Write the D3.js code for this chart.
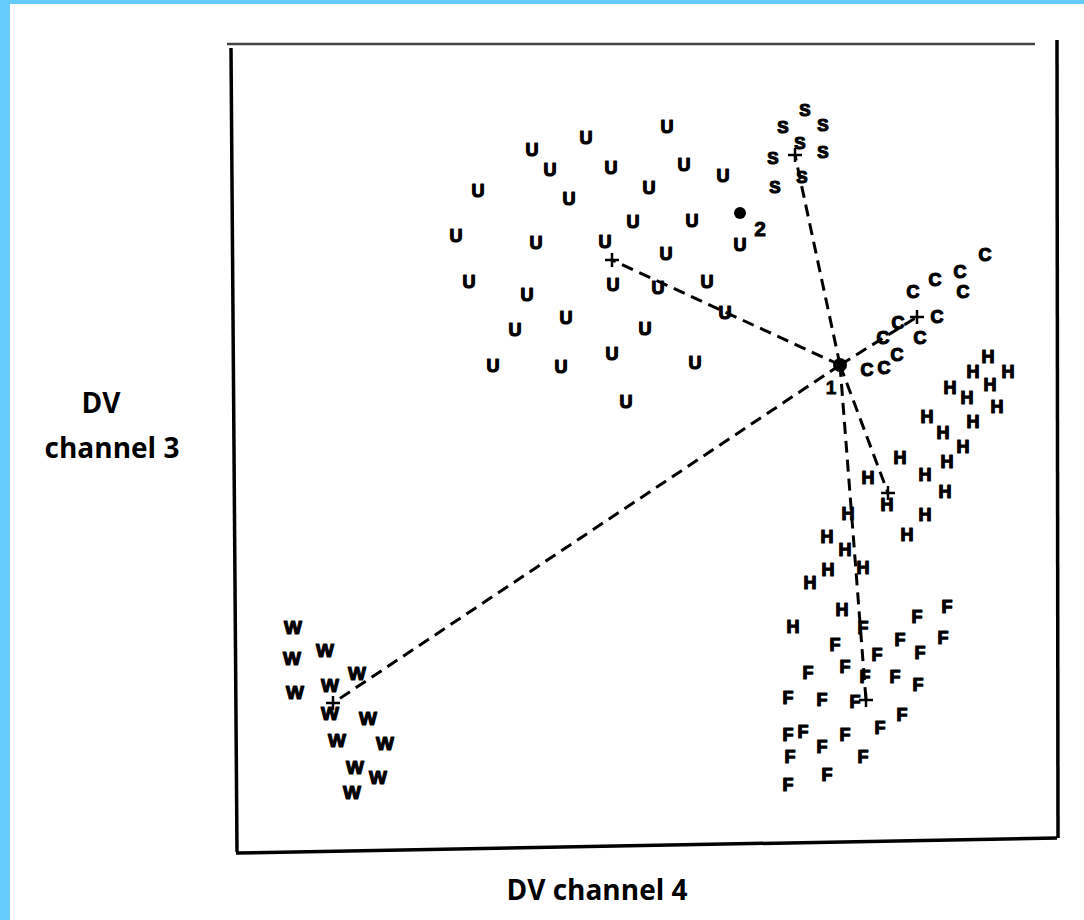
<!DOCTYPE html>
<html>
<head>
<meta charset="utf-8">
<script src="https://cdn.jsdelivr.net/npm/d3@7"></script>
<style>
  html, body { margin: 0; padding: 0; background: #fff; }
  svg { display: block; }
</style>
</head>
<body>
<svg id="chart" width="1084" height="920"></svg>
<script>
// ---- Data (discriminant scores, arbitrary units) ----
const groupU = [[43.7,72.3],[35.6,71.2],[30.2,70.0],[32.0,68.0],[38.1,68.2],[45.4,68.5],[49.3,67.4],
  [24.8,65.9],[41.9,66.2],[33.9,65.1],[40.3,62.8],[46.2,62.9],[22.6,61.4],[30.6,60.7],[37.5,60.8],
  [51.0,60.5],[43.6,59.6],[23.9,56.8],[38.3,56.5],[42.8,56.2],[47.7,56.8],[29.7,55.5],[49.5,53.7],
  [33.6,53.2],[28.5,52.0],[41.5,52.1],[26.3,48.4],[33.1,48.3],[38.2,49.6],[46.5,48.7],[39.6,44.8]];
const groupS = [[57.5,74.0],[55.3,72.3],[59.3,72.5],[57.0,70.7],[59.3,69.8],[54.3,69.2],[57.2,67.3],[54.5,66.3]];
const groupC = [[75.5,59.5],[73.0,57.8],[70.5,57.0],[68.3,55.8],[73.3,55.8],[70.7,53.3],[66.8,52.7],
  [69.0,51.2],[65.3,51.2],[66.7,49.5],[63.7,48.0],[65.4,48.2]];
const groupH = [[75.8,49.3],[74.3,47.8],[77.8,47.8],[76.0,46.5],[72.0,46.2],[73.7,45.2],[76.7,44.3],
  [69.7,43.3],[74.3,42.8],[71.3,41.7],[73.3,40.3],[71.7,38.8],[67.0,39.2],[69.5,37.5],[71.5,35.8],
  [63.8,37.2],[65.7,34.5],[69.5,33.5],[67.7,31.5],[61.8,33.6],[59.7,31.3],[61.5,30.0],[63.3,28.2],
  [59.8,28.0],[58.0,26.7],[61.2,24.0],[56.3,22.3]];
const groupF = [[71.7,24.3],[68.7,23.3],[63.3,22.2],[71.3,21.2],[67.0,21.0],[60.5,20.5],[69.0,19.7],
  [64.7,19.5],[61.5,18.3],[63.5,17.3],[66.5,17.3],[57.8,17.7],[68.8,16.5],[55.8,15.2],[59.2,15.0],
  [62.5,14.8],[67.2,13.5],[65.0,12.2],[55.8,11.5],[57.3,11.8],[61.5,11.5],[59.2,10.3],[63.3,9.3],
  [56.0,9.3],[59.7,7.5],[55.8,6.5]];
const groupW = [[6.3,22.3],[9.5,20.0],[6.2,19.2],[12.7,17.7],[10.0,16.5],[6.5,15.8],[10.0,13.7],
  [13.8,13.2],[10.7,11.0],[15.5,10.7],[12.5,8.3],[14.8,7.3],[12.2,5.8]];

const groupLetters = ["U","S","C","H","F","W"];
const groupPoints = [groupU, groupS, groupC, groupH, groupF, groupW];
const centroids = [[38.2,59.0],[56.5,69.5],[68.7,53.3],[65.8,35.7],[63.6,15.0],[10.3,14.7]];

const specialPoints = [[61.0,48.5],[51.0,63.7]];
const specialLabels = ["1","2"];

const xLabel = "DV channel 4";
const yLabelLines = ["DV","channel 3"];

// ---- Scales ----
const svg = d3.select("#chart");
const x = d3.scaleLinear().domain([0, 82.7]).range([230, 1057]);
const y = d3.scaleLinear().domain([0, 80.6]).range([850, 44]);

// Page border (blue)
svg.append("rect").attr("x",0).attr("y",0).attr("width",1084).attr("height",4).attr("fill","#66ccff");
svg.append("rect").attr("x",0).attr("y",0).attr("width",10).attr("height",920).attr("fill","#66ccff");

// Frame
const [x0, x1] = x.range();
const [yb, yt] = y.range();
svg.append("line").attr("x1", x0 - 3).attr("x2", x1 - 22).attr("y1", yt).attr("y2", yt)
  .attr("stroke", "#444").attr("stroke-width", 2.5);
svg.append("line").attr("x1", x0 + 1).attr("x2", x0 + 7).attr("y1", yt + 4).attr("y2", yb + 2)
  .attr("stroke", "#000").attr("stroke-width", 3.5);
svg.append("line").attr("x1", x0 + 6).attr("x2", x1).attr("y1", yb + 3).attr("y2", yb - 12)
  .attr("stroke", "#000").attr("stroke-width", 3.5);
svg.append("line").attr("x1", x1).attr("x2", x1 + 1).attr("y1", yt - 4).attr("y2", yb - 12)
  .attr("stroke", "#000").attr("stroke-width", 3.5);

// Dashed lines from point 1 to each centroid
const hub = specialPoints[0];
svg.append("g").selectAll("line").data(centroids).join("line")
  .attr("x1", x(hub[0])).attr("y1", y(hub[1]))
  .attr("x2", d => x(d[0])).attr("y2", d => y(d[1]))
  .attr("stroke", "#000").attr("stroke-width", 3)
  .attr("stroke-dasharray", "12,7");

// Centroid crosses
const cs = 7;
const cg = svg.append("g");
centroids.forEach(c => {
  cg.append("line").attr("x1", x(c[0]) - cs).attr("x2", x(c[0]) + cs).attr("y1", y(c[1])).attr("y2", y(c[1]))
    .attr("stroke", "#000").attr("stroke-width", 2.5);
  cg.append("line").attr("x1", x(c[0])).attr("x2", x(c[0])).attr("y1", y(c[1]) - cs).attr("y2", y(c[1]) + cs)
    .attr("stroke", "#000").attr("stroke-width", 2.5);
});

// Letter markers
const fontSizes = {U:18, S:17, C:18, H:18, F:18, W:19};
groupLetters.forEach((L, i) => {
  svg.append("g").selectAll("text").data(groupPoints[i]).join("text")
    .attr("x", d => x(d[0])).attr("y", d => y(d[1]))
    .attr("text-anchor", "middle").attr("dominant-baseline", "central")
    .attr("font-family", "'Liberation Sans', Arial, sans-serif")
    .attr("font-weight", "bold").attr("font-size", fontSizes[L])
    .attr("fill", "#000").attr("stroke", "#000").attr("stroke-width", 1.2)
    .attr("stroke-linejoin", "round")
    .text(L);
});

// Special points 1 and 2
svg.append("circle").attr("cx", x(specialPoints[0][0])).attr("cy", y(specialPoints[0][1])).attr("r", 7).attr("fill", "#000");
svg.append("circle").attr("cx", x(specialPoints[1][0])).attr("cy", y(specialPoints[1][1])).attr("r", 6).attr("fill", "#000");
svg.append("text").attr("x", x(specialPoints[0][0]) - 9).attr("y", y(specialPoints[0][1]) + 22)
  .attr("text-anchor", "middle").attr("dominant-baseline", "central")
  .attr("font-family", "'Liberation Sans', Arial, sans-serif").attr("font-weight", "bold").attr("font-size", 19)
  .attr("stroke", "#000").attr("stroke-width", 0.8)
  .text(specialLabels[0]);
svg.append("text").attr("x", x(specialPoints[1][0]) + 20).attr("y", y(specialPoints[1][1]) + 15)
  .attr("text-anchor", "middle").attr("dominant-baseline", "central")
  .attr("font-family", "'Liberation Sans', Arial, sans-serif").attr("font-weight", "bold").attr("font-size", 21)
  .attr("stroke", "#000").attr("stroke-width", 0.8)
  .text(specialLabels[1]);

// Axis titles
const titleFont = "'Open Sans', sans-serif";
svg.append("text").attr("x", 597).attr("y", 889)
  .attr("text-anchor", "middle").attr("dominant-baseline", "central")
  .attr("font-family", titleFont).attr("font-weight", 700).attr("font-size", 28)
  .attr("fill", "#000").text(xLabel);
svg.append("text").attr("x", 101).attr("y", 402)
  .attr("text-anchor", "middle").attr("dominant-baseline", "central")
  .attr("font-family", titleFont).attr("font-weight", 700).attr("font-size", 28)
  .attr("fill", "#000").text(yLabelLines[0]);
svg.append("text").attr("x", 112).attr("y", 447)
  .attr("text-anchor", "middle").attr("dominant-baseline", "central")
  .attr("font-family", titleFont).attr("font-weight", 700).attr("font-size", 28)
  .attr("fill", "#000").text(yLabelLines[1]);
</script>
</body>
</html>
